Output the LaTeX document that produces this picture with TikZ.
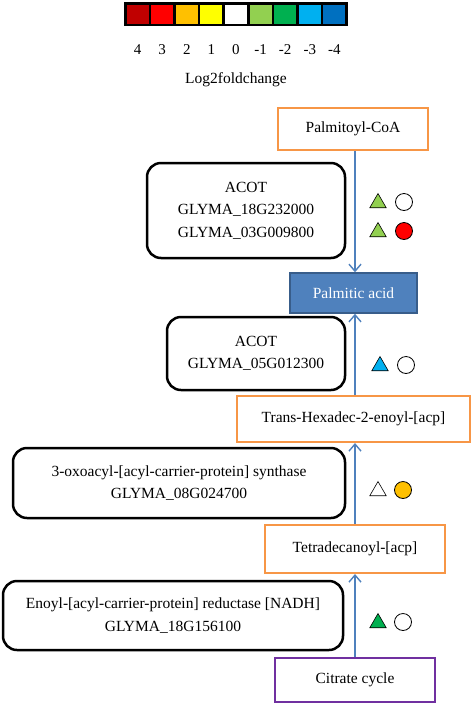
\documentclass[tikz,border=0pt]{standalone}
\usepackage{fontspec}
\setmainfont{Liberation Serif}
\usetikzlibrary{arrows.meta,shapes.geometric}
\definecolor{cDR}{HTML}{C00000}
\definecolor{cR}{HTML}{FF0000}
\definecolor{cO}{HTML}{FFC000}
\definecolor{cY}{HTML}{FFFF00}
\definecolor{cLG}{HTML}{92D050}
\definecolor{cG}{HTML}{00B050}
\definecolor{cLB}{HTML}{00B0F0}
\definecolor{cDB}{HTML}{0070C0}
\definecolor{boxorange}{HTML}{F79646}
\definecolor{arrowblue}{HTML}{4F81BD}
\definecolor{palfill}{HTML}{4F81BD}
\definecolor{paledge}{HTML}{385D8A}
\definecolor{cpurple}{HTML}{7030A0}
\begin{document}
\begin{tikzpicture}[x=1pt,y=-1pt,
  font=\fontsize{15.5}{22.5}\selectfont,
  orangebox/.style={draw=boxorange, line width=2pt, inner sep=0pt},
  genebox/.style={draw=black, line width=2.5pt, rounded corners=14pt, align=center, inner sep=0pt},
  flow/.style={draw=arrowblue, line width=1.4pt, -{Straight Barb[length=7pt,width=12pt,line width=1.4pt]}},
  tri/.style={regular polygon, regular polygon sides=3, minimum size=19pt, inner sep=0pt, draw=black, line width=0.6pt},
  circ/.style={circle, minimum size=17pt, inner sep=0pt, draw=black, line width=0.8pt},
  sq/.style={minimum width=22.1pt, minimum height=19pt, inner sep=0pt}
]
\useasboundingbox[fill=white] (0,0) rectangle (472,705);
% colour bar
\fill[black] (124,2) rectangle (348,26);
\foreach \c [count=\i from 0] in {cDR,cR,cO,cY,white,cLG,cG,cLB,cDB}{
  \node[sq, fill=\c] (sq\i) at (137.55+24.6*\i,14) {};
}
\foreach \t [count=\i from 0] in {4,3,2,1,0,-1,-2,-3,-4}{
  \node[font=\fontsize{15}{18}\selectfont] (num\i) at (137.55+24.6*\i,50) {\t};
}
\node (legend) at (236,80) {Log2foldchange};
% compound boxes
\node[orangebox, minimum width=150pt, minimum height=42pt] (palco) at (353,129) {Palmitoyl-CoA};
\node[draw=paledge, fill=palfill, line width=1.5pt, text=white, minimum width=127pt, minimum height=40pt, inner sep=0pt] (palac) at (353.5,293) {Palmitic acid};
\node[orangebox, minimum width=233pt, minimum height=46pt] (trans) at (353.5,419) {Trans-Hexadec-2-enoyl-[acp]};
\node[orangebox, minimum width=180pt, minimum height=48pt] (tetra) at (355,549) {Tetradecanoyl-[acp]};
\node[draw=cpurple, line width=2pt, minimum width=160pt, minimum height=44pt, inner sep=0pt] (citr) at (355,680) {Citrate cycle};
% enzyme boxes
\node[genebox, minimum width=198pt, minimum height=95pt] (acot1) at (246,210.5) {ACOT\\GLYMA\_18G232000\\GLYMA\_03G009800};
\node[genebox, minimum width=178pt, minimum height=73pt] (acot2) at (256,353.5) {ACOT\\GLYMA\_05G012300};
\node[genebox, minimum width=332pt, minimum height=70pt] (oxo) at (179,483) {3-oxoacyl-[acyl-carrier-protein] synthase\\GLYMA\_08G024700};
\node[genebox, minimum width=340pt, minimum height=69pt] (enoyl) at (173,615.5) {Enoyl-[acyl-carrier-protein] reductase [NADH]\\GLYMA\_18G156100};
% arrows
\draw[flow] (palco.south -| 355,0) -- (palac.north -| 355,0);
\draw[flow] (trans.north -| 355,0) -- (palac.south -| 355,0);
\draw[flow] (tetra.north -| 355,0) -- (trans.south -| 355,0);
\draw[flow] (citr.north -| 355,0) -- (tetra.south -| 355,0);
% expression symbols
\node[tri, fill=cLG] (t1) at (378,203) {};
\node[circ, fill=white] (c1) at (404,202) {};
\node[tri, fill=cLG] (t2) at (378,232) {};
\node[circ, fill=cR] (c2) at (404,231) {};
\node[tri, fill=cLB] (t3) at (380,366) {};
\node[circ, fill=white] (c3) at (406,365) {};
\node[tri, fill=white] (t4) at (378,491) {};
\node[circ, fill=cO] (c4) at (403,490) {};
\node[tri, fill=cG] (t5) at (378,623) {};
\node[circ, fill=white] (c5) at (403,622) {};
\end{tikzpicture}
\end{document}
